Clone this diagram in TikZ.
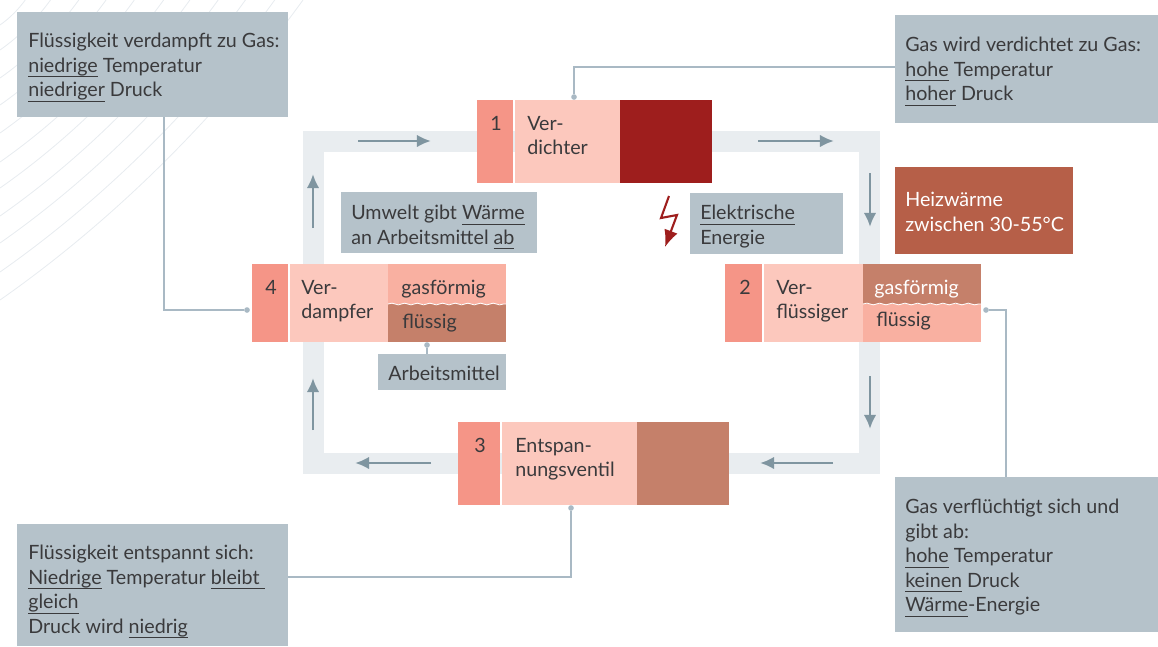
\documentclass[tikz,border=0pt]{standalone}
\usepackage{fontspec}
\setmainfont{Lato}
\usetikzlibrary{fit}
\usetikzlibrary{arrows.meta}
\usetikzlibrary{decorations.pathmorphing}
\definecolor{numred}{HTML}{F59587}
\definecolor{bodyred}{HTML}{FCC8BD}
\definecolor{midred}{HTML}{F9B0A1}
\definecolor{brownred}{HTML}{C5806A}
\definecolor{darkred}{HTML}{9E1E1D}
\definecolor{heatred}{HTML}{B65F48}
\definecolor{infogrey}{HTML}{B5C2CA}
\definecolor{loopgrey}{HTML}{E9EDF0}
\definecolor{arrowgrey}{HTML}{7F95A0}
\definecolor{leadgrey}{HTML}{A9B9C4}
\definecolor{hatchgrey}{HTML}{E8ECF0}
\definecolor{textgrey}{HTML}{3A3A3C}
\tikzset{
	block/.style={inner sep=0pt,outer sep=0pt,draw=none},
	label text/.style={inner sep=0pt,anchor=north west,align=left,yshift=-1.4pt,text=textgrey,font=\fontsize{14}{17.4}\selectfont},
	leader/.style={draw=leadgrey,line width=0.9pt},
	leaddot/.style={circle,fill=leadgrey,inner sep=0pt,minimum size=4pt},
	flow/.style={draw=arrowgrey,line width=2.1pt,-{Latex[length=10pt,width=9pt]}}
}
\newlength{\ulwlen}
\newcommand{\ulw}[1]{\settowidth{\ulwlen}{#1}\rlap{\rule[-3.6pt]{\ulwlen}{0.8pt}}#1}
\newcommand{\waveline}[2]{%
	\draw[white,line width=0.6pt,decorate,decoration={snake,amplitude=0.6pt,segment length=9pt}] (#1) -- (#2);%
}

\begin{document}
\begin{tikzpicture}[x=0.025cm,y=-0.025cm]
	\useasboundingbox (0,0) rectangle (1158,646);
	% background lines
	\foreach \i in {25,50,78,105,133,162,188,216,243,272,300}
	\draw[hatchgrey,line width=0.6pt] (0,\i) .. controls (\i*0.4,\i*0.72) and (\i*0.75,\i*0.36) .. (\i*1.01,0);
	% loop
	\draw[loopgrey,line width=15pt] (313.5,141.5) rectangle (869.5,463.5);
	\coordinate (flow1a) at (358,141);
	\coordinate (flow1b) at (431,141);
	\coordinate (flow2a) at (758,141);
	\coordinate (flow2b) at (834,141);
	\coordinate (flow3a) at (870,173);
	\coordinate (flow3b) at (870,227);
	\coordinate (flow4a) at (870,376);
	\coordinate (flow4b) at (870,429);
	\coordinate (flow5a) at (833,463);
	\coordinate (flow5b) at (760,463);
	\coordinate (flow6a) at (431,463);
	\coordinate (flow6b) at (355,463);
	\coordinate (flow7a) at (313,430);
	\coordinate (flow7b) at (313,378);
	\coordinate (flow8a) at (313,228);
	\coordinate (flow8b) at (313,174);
	\foreach \i in {1,...,8}
	\draw[flow] (flow\i a) -- (flow\i b);
	% info boxes
	\node[block,fill=infogrey,fit={(17,12) (288,117)}] (info4) {};
	\node[block,fill=infogrey,fit={(895,15) (1158,123)}] (info1) {};
	\node[block,fill=infogrey,fit={(895,477) (1158,632)}] (info2) {};
	\node[block,fill=infogrey,fit={(17,524) (288,646)}] (info3) {};
	\node[block,fill=infogrey,fit={(341,192) (537,253)}] (umwelt) {};
	\node[block,fill=infogrey,fit={(690,193) (843,254)}] (energie) {};
	\node[block,fill=infogrey,fit={(378,354) (506,390)}] (arbeit) {};
	\node[block,fill=heatred,fit={(895,167) (1073,254)}] (heat) {};
	\node[label text] (info4text) at (28,31) {Flüssigkeit verdampft zu Gas:\\\ulw{niedrige} Temperatur\\\ulw{niedriger} Druck};
	\node[label text] (info1text) at (905,35) {Gas wird verdichtet zu Gas:\\\ulw{hohe} Temperatur\\\ulw{hoher} Druck};
	\node[label text] (info2text) at (905,497) {Gas verflüchtigt sich und\\gibt ab:\\\ulw{hohe} Temperatur\\\ulw{keinen} Druck\\\ulw{Wärme}-Energie};
	\node[label text] (info3text) at (28,543) {Flüssigkeit entspannt sich:\\\ulw{Niedrige} Temperatur \ulw{bleibt\ }\\\ulw{gleich}\\Druck wird \ulw{niedrig}};
	\node[label text] (umwelttext) at (351,203) {Umwelt gibt \ulw{Wärme}\\an Arbeitsmittel \ulw{ab}};
	\node[label text] (energietext) at (700,203) {\ulw{Elektrische}\\Energie};
	\node[label text] (arbeittext) at (388,364) {Arbeitsmittel};
	\node[label text,text=white] (heattext) at (905,190) {Heizwärme\\zwischen 30-55°C};
	% components
	\node[block,fill=numred,fit={(477,100) (513,183)}] (num1) {};
	\node[block,fill=bodyred,fit={(515,100) (620,183)}] (body1) {};
	\node[block,fill=darkred,fit={(620,100) (712,183)}] (part1) {};
	\node[block,fill=numred,fit={(725,264) (762,342)}] (num2) {};
	\node[block,fill=bodyred,fit={(764,264) (863,342)}] (body2) {};
	\node[block,fill=brownred,fit={(863,264) (981,304)}] (gas2) {};
	\node[block,fill=midred,fit={(863,304) (981,342)}] (liquid2) {};
	\node[block,fill=numred,fit={(458,422) (500,505)}] (num3) {};
	\node[block,fill=bodyred,fit={(502,422) (637,505)}] (body3) {};
	\node[block,fill=brownred,fit={(637,422) (729,505)}] (part3) {};
	\node[block,fill=numred,fit={(252,264) (288,342)}] (num4) {};
	\node[block,fill=bodyred,fit={(290,264) (388,342)}] (body4) {};
	\node[block,fill=midred,fit={(388,264) (506,304)}] (gas4) {};
	\node[block,fill=brownred,fit={(388,304) (506,342)}] (liquid4) {};
	\waveline{gas2.south west}{gas2.south east}
	\waveline{gas4.south west}{gas4.south east}
	\node[label text] (num1text) at (490,114) {1};
	\node[label text] (num2text) at (739,278) {2};
	\node[label text] (num3text) at (474,436) {3};
	\node[label text] (num4text) at (265,278) {4};
	\node[label text] (body1text) at (527,114) {Ver-\\dichter};
	\node[label text] (body2text) at (776,278) {Ver-\\flüssiger};
	\node[label text] (body3text) at (515,436) {Entspan-\\nungsventil};
	\node[label text] (body4text) at (301,278) {Ver-\\dampfer};
	\node[label text,text=white] (gas2text) at (874,278) {gasförmig};
	\node[label text] (liquid2text) at (876,310) {flüssig};
	\node[label text] (gas4text) at (401,278) {gasförmig};
	\node[label text] (liquid4text) at (402,312) {flüssig};
	% bolt
	\draw[darkred,line width=1.5pt,-{Latex[length=12pt,width=10pt]}] (669,196) -- (661,218) -- (677,215) -- (665,247);
	% leaders
	\node[leaddot] (dot1) at (574,97) {};
	\node[leaddot] (dot2) at (986,310) {};
	\node[leaddot] (dot3) at (571,508) {};
	\node[leaddot] (dot4) at (247,310) {};
	\node[leaddot] (dot5) at (427,345) {};
	\coordinate (info1out) at (895,67);
	\coordinate (info2out) at (1006,477);
	\coordinate (info3out) at (288,577);
	\coordinate (info4out) at (164,117);
	\coordinate (arbeitout) at (427,354);
	\draw[leader] (dot1) |- (info1out);
	\draw[leader] (dot2) -| (info2out);
	\draw[leader] (dot3) |- (info3out);
	\draw[leader] (dot4) -| (info4out);
	\draw[leader] (dot5) -- (arbeitout);
\end{tikzpicture}
\end{document}
